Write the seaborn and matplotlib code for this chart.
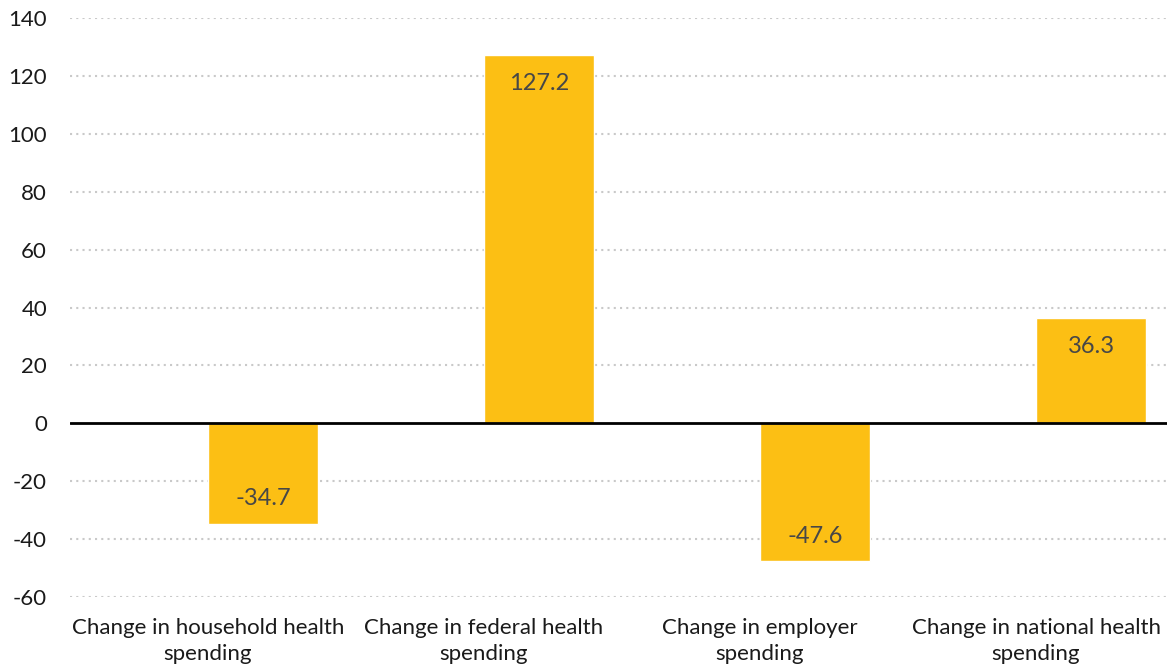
import matplotlib
matplotlib.use("Agg")
import matplotlib.pyplot as plt
import seaborn as sns
import pandas as pd

categories = [
    "Change in household health\nspending",
    "Change in federal health\nspending",
    "Change in employer\nspending",
    "Change in national health\nspending",
]
values = [-34.7, 127.2, -47.6, 36.3]
yticks = [-60, -40, -20, 0, 20, 40, 60, 80, 100, 120, 140]

BAR = "#FCBF14"
TEXT = "#1a1a1a"
LABEL = "#474747"

sns.set_theme(style="white")
plt.rcParams["font.family"] = ["Lato", "DejaVu Sans"]

df = pd.DataFrame({"category": categories, "value": values, "series": "change"})

W, H = 1167, 668
fig = plt.figure(figsize=(W / 100, H / 100), dpi=100)
# plot area runs slightly past the right edge of the canvas
ax = fig.add_axes([70 / W, 1 - 597 / H, 1104 / W, (597 - 18) / H])

# the empty first hue level reserves the left half of each slot
sns.barplot(data=df, x="category", y="value", hue="series",
            hue_order=["spacer", "change"], order=categories,
            palette={"spacer": BAR, "change": BAR},
            width=0.8, dodge=True, legend=False, ax=ax, zorder=3,
            saturation=1)

ax.set_xlim(-0.5, len(categories) - 0.5)
ax.set_ylim(-60, 140)
ax.set_yticks(yticks)
ax.set_yticklabels([str(t) for t in yticks], fontsize=16, color=TEXT)
ax.tick_params(axis="y", length=0, pad=16.5)
ax.tick_params(axis="x", length=0, pad=15, labelsize=16, labelcolor=TEXT)
ax.set_xlabel("")
ax.set_ylabel("")
for lbl in ax.get_xticklabels():
    lbl.set_linespacing(1.38)

for t in yticks:
    if t != 0:
        ax.axhline(t, color="#c9c9c9", linestyle=(0, (1, 2)), linewidth=1.5, zorder=1)
ax.axhline(0, color="black", linewidth=2, zorder=4)

for s in ax.spines.values():
    s.set_visible(False)

for patch in ax.patches:
    h = patch.get_height()
    if h != h or h == 0:
        continue
    x = patch.get_x() + patch.get_width() / 2
    y_end = patch.get_y() + h
    offset = -28 if h > 0 else 25
    ax.annotate(f"{h:.1f}", (x, y_end), xytext=(0, offset), textcoords="offset pixels",
                ha="center", va="center", fontsize=17, color=LABEL, zorder=5)

fig.savefig("out.png", dpi=100)
